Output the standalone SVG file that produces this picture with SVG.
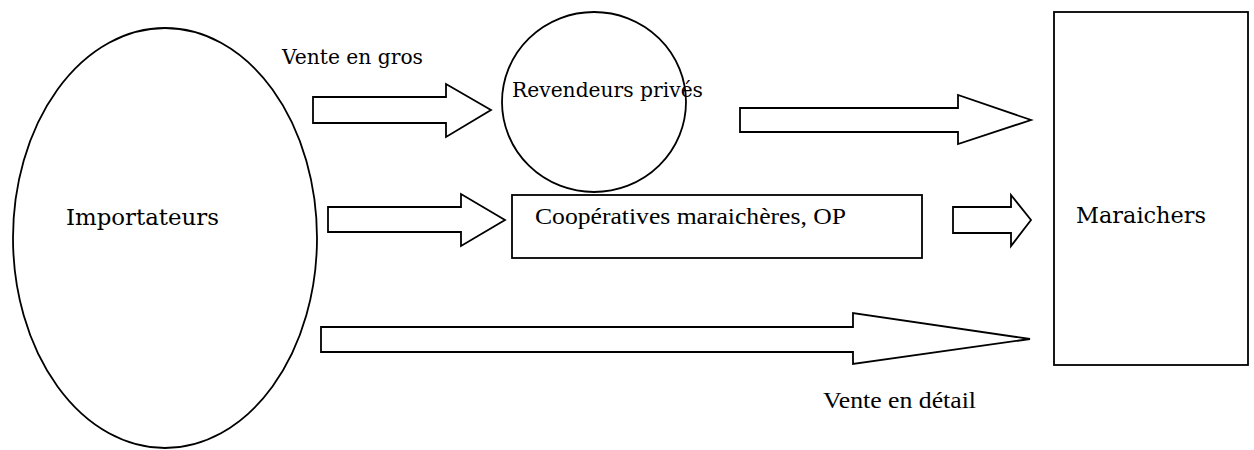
<svg xmlns="http://www.w3.org/2000/svg" width="1254" height="450" viewBox="0 0 1254 450">
<style>
.shape{fill:#fff;stroke:#000;stroke-width:1.8}
.arrow{fill:#fff;stroke:#000;stroke-width:1.8;stroke-linejoin:miter}
.bk{font-family:"DejaVu Serif","Liberation Serif",serif;fill:#000}
.tm{font-family:"Liberation Serif","Times New Roman",serif;fill:#000}
</style>
<rect width="1254" height="450" fill="#fff"/>
<g id="importateurs">
<ellipse class="shape" cx="165" cy="238" rx="152" ry="210"/>
<text class="bk" x="66" y="225" font-size="22.5" textLength="153" lengthAdjust="spacingAndGlyphs">Importateurs</text>
</g>
<g id="revendeurs">
<ellipse class="shape" cx="594" cy="102" rx="92" ry="90"/>
<text class="bk" x="512" y="97" font-size="20" textLength="191" lengthAdjust="spacingAndGlyphs">Revendeurs privés</text>
</g>
<g id="cooperatives">
<rect class="shape" x="512" y="195" width="410" height="63"/>
<text class="tm" x="535" y="224" font-size="23.5" textLength="311" lengthAdjust="spacingAndGlyphs">Coopératives maraichères, OP</text>
</g>
<g id="maraichers">
<rect class="shape" x="1054" y="12" width="194" height="353"/>
<text class="bk" x="1076" y="223" font-size="22.5" textLength="130" lengthAdjust="spacingAndGlyphs">Maraichers</text>
</g>
<g id="connectors">
<polygon class="arrow" points="313,97 446,97 446,84 491,110 446,137 446,123 313,123"/>
<polygon class="arrow" points="740,108 958,108 958,95 1031,120 958,144 958,132 740,132"/>
<polygon class="arrow" points="328,207 461,207 461,194 505,220 461,246 461,232 328,232"/>
<polygon class="arrow" points="953,207 1011,207 1011,195 1031,220 1011,246 1011,233 953,233"/>
<polygon class="arrow" points="321,327 853,327 853,313 1030,339 853,364 853,352 321,352"/>
</g>
<g id="labels">
<text class="bk" x="282" y="64" font-size="20" textLength="141" lengthAdjust="spacingAndGlyphs">Vente en gros</text>
<text class="tm" x="823" y="408" font-size="23" textLength="153" lengthAdjust="spacingAndGlyphs">Vente en détail</text>
</g>
</svg>
